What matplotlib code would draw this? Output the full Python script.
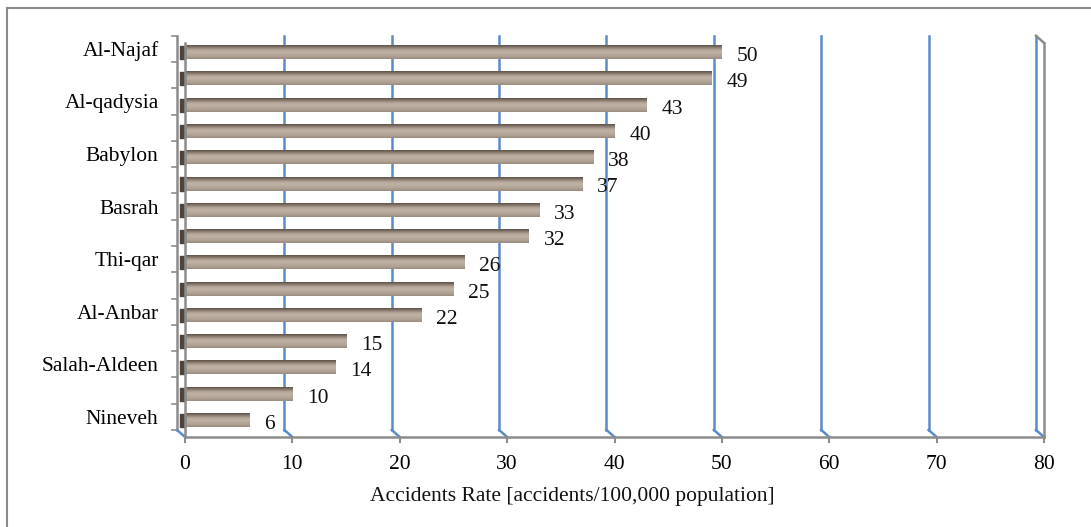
import numpy as np
import matplotlib.pyplot as plt
from matplotlib.colors import LinearSegmentedColormap

# accident rates per governorate, top to bottom
rates = [50, 49, 43, 40, 38, 37, 33, 32, 26, 25, 22, 15, 14, 10, 6]
# only every other category carries a name on the axis
tick_names = ["Al-Najaf", "Al-qadysia", "Babylon", "Basrah",
              "Thi-qar", "Al-Anbar", "Salah-Aldeen", "Nineveh"]
x_ticks = [0, 10, 20, 30, 40, 50, 60, 70, 80]
x_title = "Accidents Rate [accidents/100,000 population]"

plt.rcParams['font.family'] = ['Liberation Serif', 'DejaVu Serif']
FS = 15.5
GRID_BLUE = '#5a8ccc'
WALL_GRAY = '#8c8c8c'

fig = plt.figure(figsize=(10.91, 5.27), dpi=100)
ax = fig.add_axes([185 / 1091, 1 - 437 / 527, 859 / 1091, 402 / 527])

n = len(rates)

# depth of the pseudo-3D box in data units
DX = 0.75
DY = 0.27
back_top, back_bot = -0.5, n - 0.5
front_bot = n - 0.5 + DY

# back wall gridlines with their floor diagonals
for t in x_ticks:
    col = WALL_GRAY if t == 0 else GRID_BLUE
    ax.plot([t - DX, t - DX], [back_top, back_bot], color=col, lw=1.8,
            clip_on=False, zorder=1)
    ax.plot([t - DX, t], [back_bot, front_bot], color=GRID_BLUE, lw=1.8,
            clip_on=False, zorder=1)

# left wall category ticks
for k in range(n + 1):
    ax.plot([-DX - 0.45, -DX], [back_top + k, back_top + k], color=WALL_GRAY,
            lw=1.2, clip_on=False, zorder=1)

# front edges of the box
ax.plot([0, 0], [back_top + DY, front_bot], color=WALL_GRAY, lw=1.8,
        clip_on=False, zorder=4)
ax.plot([80, 80], [back_top + DY, front_bot], color=WALL_GRAY, lw=1.8,
        clip_on=False, zorder=4)
ax.plot([80 - DX, 80], [back_top, back_top + DY], color=WALL_GRAY, lw=1.8,
        clip_on=False, zorder=4)
ax.plot([0, 80], [front_bot, front_bot], color=WALL_GRAY, lw=1.8,
        clip_on=False, zorder=4)
for t in x_ticks:
    ax.plot([t, t], [front_bot, front_bot + 0.2], color=WALL_GRAY, lw=1.5,
            clip_on=False, zorder=4)

# bar shading: dark top edge, light body, slightly darker bottom
wood = LinearSegmentedColormap.from_list(
    'wood', ['#5f544b', '#8a7c6f', '#b4a79a', '#bfb3a6', '#b7aa9d',
             '#ad9f92', '#9a8c7f'])
grad = np.linspace(0, 1, 32).reshape(-1, 1)

bar_h = 0.5
shift = 0.14
for i, v in enumerate(rates):
    yc = i + shift
    ax.imshow(grad, cmap=wood, aspect='auto', interpolation='bilinear',
              extent=(0, v, yc + bar_h / 2, yc - bar_h / 2), zorder=3)
    ax.fill_between([-0.45, 0], yc - bar_h / 2, yc + bar_h / 2,
                    color='#4e443c', zorder=3, clip_on=False)
    ax.annotate(str(v), (v, yc), xytext=(15, -4), textcoords='offset pixels',
                ha='left', va='center', fontsize=FS, color='#111111', zorder=5)

ax.set_xlim(0, 80)
ax.set_ylim(front_bot, -0.53)

ax.set_xticks(x_ticks)
ax.set_xticklabels([str(t) for t in x_ticks], fontsize=FS)
ax.set_yticks(list(range(0, n, 2)))
ax.set_yticklabels(tick_names, fontsize=FS)
ax.tick_params(axis='x', length=0, pad=13)
ax.tick_params(axis='y', length=0, pad=19)
for s in ax.spines.values():
    s.set_visible(False)

fig.text(572 / 1091, 1 - 496 / 527, x_title, ha='center', va='center',
         fontsize=FS, color='#111111')

# outer chart border
fig.add_artist(plt.Line2D([7 / 1091, 7 / 1091], [0, 1 - 8 / 527],
                          transform=fig.transFigure, color='#8a8a8a', lw=1.5))
fig.add_artist(plt.Line2D([7 / 1091, 1], [1 - 8 / 527, 1 - 8 / 527],
                          transform=fig.transFigure, color='#8a8a8a', lw=1.5))

fig.savefig('out.png', dpi=100)
